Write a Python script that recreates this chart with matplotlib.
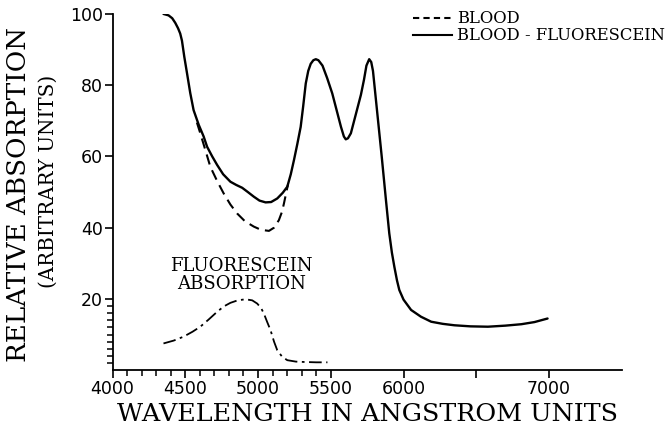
import matplotlib
matplotlib.use("Agg")
import matplotlib.pyplot as plt
from matplotlib.lines import Line2D
from matplotlib.ticker import FixedLocator

# blood + fluorescein (solid)
mix_wl = [4350, 4385, 4410, 4431, 4450, 4465, 4477, 4493, 4512, 4534, 4557, 4592,
          4626, 4650, 4685, 4719, 4760, 4810, 4850, 4891, 4930, 4971, 5010, 5052,
          5090, 5132, 5170, 5201, 5225, 5247, 5270, 5293, 5310, 5328, 5345, 5362,
          5380, 5397, 5415, 5443, 5475, 5510, 5540, 5570, 5590, 5603, 5618, 5638,
          5670, 5707, 5728, 5745, 5764, 5778, 5790, 5805, 5822, 5850, 5879, 5902,
          5920, 5937, 5955, 5971, 6000, 6052, 6120, 6190, 6270, 6350, 6460, 6580,
          6700, 6810, 6900, 6990]
mix_abs = [100, 99.6, 98.8, 97.5, 96, 94.5, 92.5, 88, 83.3, 77.8, 73, 68.9,
           65.6, 62.7, 60, 57.6, 55, 52.9, 52, 51.2, 50, 48.7, 47.6, 47.1,
           47.2, 48.2, 49.8, 51.5, 55, 59, 63.5, 68.3, 74, 80.5, 84, 86,
           87, 87.3, 87, 85.5, 82, 77.7, 73, 68.3, 65.6, 64.8, 65.1, 66.5,
           71.5, 77.3, 81.5, 85.5, 87.3, 86.5, 84, 78, 71.2, 60, 47.8, 38.4,
           33, 29, 25.2, 22.5, 19.8, 16.9, 15, 13.6, 13, 12.6, 12.3, 12.2,
           12.5, 12.9, 13.5, 14.5]

# blood alone (dashed, only where it departs from the solid curve)
blood_wl = [4580, 4603, 4640, 4672, 4720, 4764, 4810, 4856, 4910, 4971, 5020, 5075,
            5110, 5143, 5165, 5178, 5192, 5205]
blood_abs = [69.5, 66.5, 61.5, 57.1, 53, 49.6, 46.5, 44, 41.8, 40.3, 39.4, 39.1,
             40, 42.1, 44.5, 46.8, 49.5, 52]

# fluorescein absorption (dash-dot)
fl_wl = [4350, 4420, 4488, 4550, 4603, 4660, 4719, 4765, 4810, 4860, 4914, 4960,
         4994, 5020, 5040, 5062, 5086, 5110, 5132, 5165, 5201, 5260, 5316, 5400, 5477]
fl_abs = [7.5, 8.3, 9.4, 10.8, 12.2, 14.2, 16.4, 17.9, 18.9, 19.6, 19.9, 19.6,
          18.7, 17.5, 15.9, 13.6, 11.2, 8, 5.6, 3.8, 2.8, 2.4, 2.3, 2.2, 2.2]

x_major = [4000, 4500, 5000, 5500, 6000, 6500, 7000]
x_labels = ['4000', '4500', '5000', '5500', '6000', '', '7000']
x_minor = list(range(4100, 5500, 100))
y_major = [20, 40, 60, 80, 100]
y_minor = list(range(2, 20, 2))

serif = 'DejaVu Serif'

fig = plt.figure(figsize=(6.7, 4.36), dpi=100)
ax = fig.add_axes([0.168, 0.151, 0.76, 0.817])

ax.plot(mix_wl, mix_abs, color='black', linewidth=1.7,
        solid_capstyle='round', solid_joinstyle='round')
ax.plot(blood_wl, blood_abs, color='black', linewidth=1.5, linestyle=(0, (5, 3)))
ax.plot(fl_wl, fl_abs, color='black', linewidth=1.3, linestyle=(0, (7, 2.5, 1.5, 2.5)))

ax.set_xlim(4000, 7500)
ax.set_ylim(0, 100)
for s in ['top', 'right']:
    ax.spines[s].set_visible(False)
for s in ['left', 'bottom']:
    ax.spines[s].set_linewidth(1.3)

ax.xaxis.set_major_locator(FixedLocator(x_major))
ax.set_xticklabels(x_labels)
ax.xaxis.set_minor_locator(FixedLocator(x_minor))
ax.yaxis.set_major_locator(FixedLocator(y_major))
ax.yaxis.set_minor_locator(FixedLocator(y_minor))
ax.tick_params(which='major', direction='out', length=6, width=1.2, labelsize=12.5, pad=1)
ax.tick_params(which='minor', direction='out', length=4, width=1.1)
for lab in ax.get_xticklabels() + ax.get_yticklabels():
    lab.set_family('DejaVu Sans')

ax.set_xlabel('WAVELENGTH IN ANGSTROM UNITS', family=serif, fontsize=18.3, labelpad=4)
fig.text(0.027, 0.553, 'RELATIVE ABSORPTION', family=serif, fontsize=18.8,
         rotation=90, ha='center', va='center')
fig.text(0.072, 0.583, '(ARBITRARY UNITS)', family=serif, fontsize=14.3,
         rotation=90, ha='center', va='center')

ax.text(4886, 26.8, 'FLUORESCEIN\nABSORPTION', family=serif, fontsize=13.1,
        ha='center', va='center', linespacing=1.0)

handles = [Line2D([], [], color='black', linewidth=1.5, linestyle=(0, (3, 2))),
           Line2D([], [], color='black', linewidth=1.5)]
ax.legend(handles, ['BLOOD', 'BLOOD - FLUORESCEIN'], loc='upper left',
          bbox_to_anchor=(0.590, 1.01), frameon=False, handlelength=2.4,
          handletextpad=0.3, labelspacing=0.0, borderpad=0, borderaxespad=0,
          prop={'family': serif, 'size': 11.8})

fig.savefig('out.png', dpi=100)
